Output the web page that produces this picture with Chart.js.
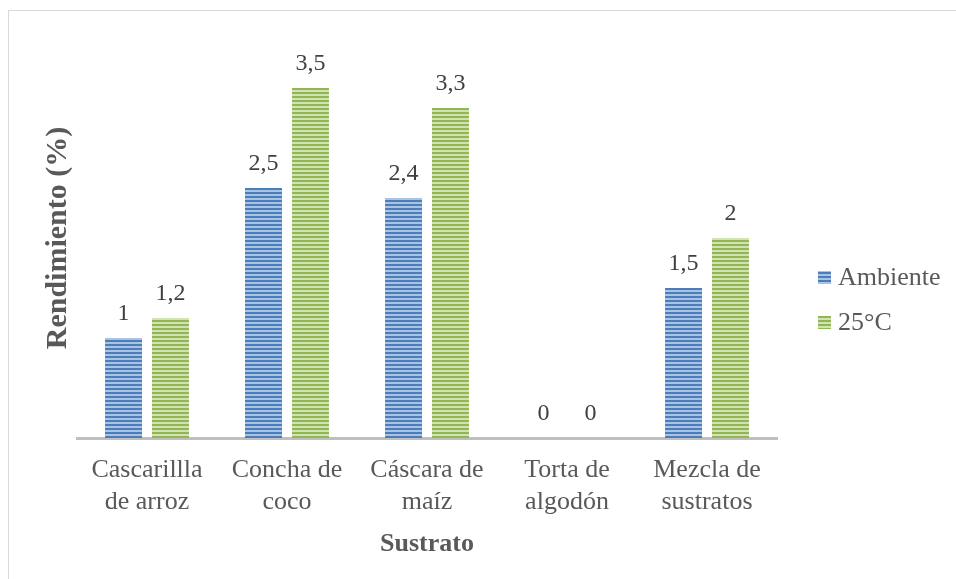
<!DOCTYPE html>
<html lang="es">
<head>
<meta charset="UTF-8">
<title>Rendimiento por sustrato</title>
<script src="https://cdn.jsdelivr.net/npm/chart.js@4.4.1/dist/chart.umd.min.js"></script>
<style>
  html, body { margin: 0; padding: 0; background: #fff; overflow: hidden; }
  .frame { position: absolute; left: 8px; top: 10px; width: 2000px; height: 2000px; border: 1px solid #d9d9d9; }
  .wrap { position: absolute; left: 0; top: 0; width: 956px; height: 579px; }
</style>
</head>
<body>
<div class="frame"></div>
<div class="wrap"><canvas id="chart" width="956" height="579"></canvas></div>
<script>
// chart values
const categories = [
  ['Cascarillla', 'de arroz'],
  ['Concha de', 'coco'],
  ['Cáscara de', 'maíz'],
  ['Torta de', 'algodón'],
  ['Mezcla de', 'sustratos'],
];
const seriesNames = ['Ambiente', '25°C'];
const ambiente = [1, 2.5, 2.4, 0, 1.5];
const temp25 = [1.2, 3.5, 3.3, 0, 2];

const SERIF = "'Liberation Serif', 'Times New Roman', serif";
const TEXT = '#595959';

// horizontal stripe fill like the original bars
function stripes(dark, light) {
  const c = document.createElement('canvas');
  c.width = 4; c.height = 4;
  const g = c.getContext('2d');
  g.fillStyle = light; g.fillRect(0, 0, 4, 4);
  g.fillStyle = dark; g.fillRect(0, 0, 4, 2);
  return g.createPattern(c, 'repeat');
}
const bluePattern = stripes('#4a7dba', '#a9c3e3');
const greenPattern = stripes('#93b654', '#d2e3b3');

const fmt = (v) => String(v).replace('.', ',');

const valueLabels = {
  id: 'valueLabels',
  afterDatasetsDraw(chart) {
    const ctx = chart.ctx;
    ctx.save();
    ctx.font = '24px ' + SERIF;
    ctx.fillStyle = '#404040';
    ctx.textAlign = 'center';
    ctx.textBaseline = 'middle';
    chart.data.datasets.forEach((ds, i) => {
      chart.getDatasetMeta(i).data.forEach((bar, j) => {
        ctx.fillText(fmt(ds.data[j]), bar.x, bar.y - 24);
      });
    });
    ctx.restore();
  }
};

const sideLegend = {
  id: 'sideLegend',
  afterDraw(chart) {
    const ctx = chart.ctx;
    const x = chart.chartArea.right + 41;
    ctx.save();
    ctx.font = '26px ' + SERIF;
    ctx.textBaseline = 'middle';
    chart.data.datasets.forEach((ds, i) => {
      const y = 277 + i * 45;
      ctx.fillStyle = ds.backgroundColor;
      ctx.fillRect(x, y - 6, 13, 13);
      ctx.fillStyle = TEXT;
      ctx.fillText(ds.label, x + 20, y + 1);
    });
    ctx.restore();
  }
};

new Chart(document.getElementById('chart'), {
  type: 'bar',
  data: {
    labels: categories,
    datasets: [
      { label: seriesNames[0], data: ambiente, backgroundColor: bluePattern },
      { label: seriesNames[1], data: temp25, backgroundColor: greenPattern },
    ]
  },
  options: {
    responsive: false,
    animation: false,
    events: [],
    categoryPercentage: 0.671,
    barPercentage: 0.787,
    layout: { padding: { left: 40, right: 179, top: 38, bottom: 19.4 } },
    plugins: { legend: { display: false }, tooltip: { enabled: false } },
    scales: {
      x: {
        grid: { display: false, drawTicks: false },
        border: { display: true, color: '#bfbfbf', width: 3 },
        ticks: { color: TEXT, font: { family: SERIF, size: 26, lineHeight: 1.23 }, padding: 16, maxRotation: 0 },
        title: { display: true, text: 'Sustrato', color: TEXT, padding: 0, font: { family: SERIF, size: 26, weight: 'bold', lineHeight: 1.2 } },
        afterFit(s) { s.height = 121.6; }
      },
      y: {
        min: 0, max: 4,
        grid: { display: false, drawTicks: false },
        border: { display: false },
        ticks: { display: false },
        title: { display: true, text: 'Rendimiento (%)', color: TEXT, padding: 0, font: { family: SERIF, size: 30, weight: 'bold', lineHeight: 1.2 } },
        afterFit(s) { s.width = 37; }
      }
    }
  },
  plugins: [valueLabels, sideLegend]
});
</script>
</body>
</html>
